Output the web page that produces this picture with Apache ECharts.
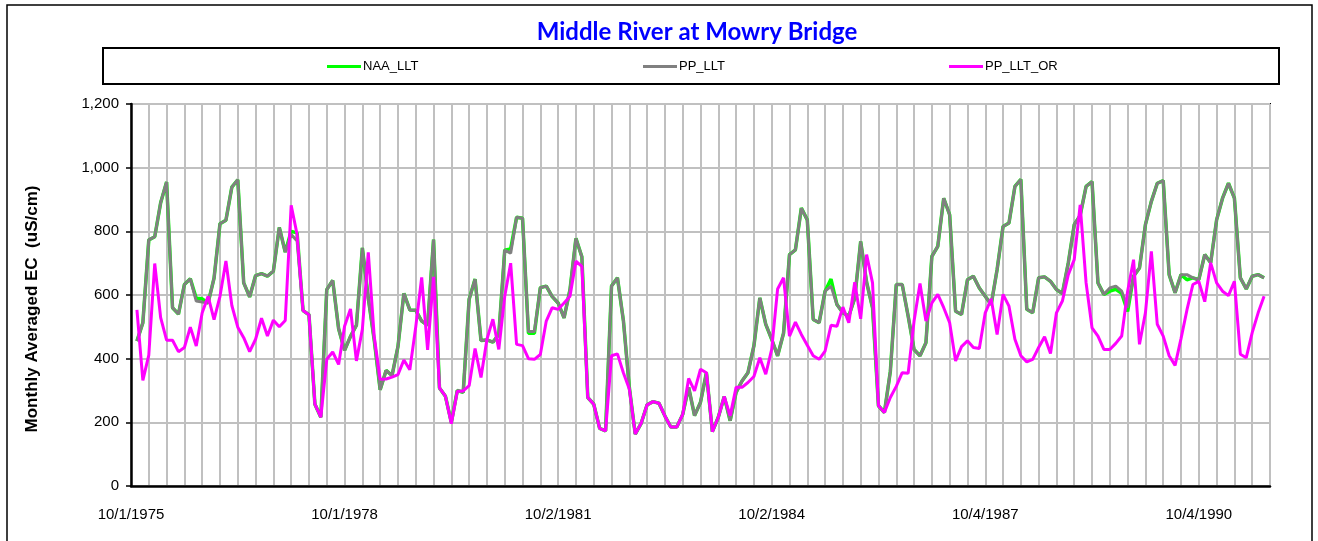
<!DOCTYPE html>
<html>
<head>
<meta charset="utf-8">
<title>Middle River at Mowry Bridge</title>
<script src="https://cdn.jsdelivr.net/npm/echarts@6/dist/echarts.min.js"></script>
<style>
html,body{margin:0;padding:0;background:#fff;}
#chart{width:1318px;height:541px;}
</style>
</head>
<body>
<div id="chart"></div>
<script>
// monthly averaged EC, one value per month from Oct 1975
var tickLabels=['10/1/1975','10/1/1978','10/2/1981','10/2/1984','10/4/1987','10/4/1990'];
var seriesNames=['NAA_LLT','PP_LLT','PP_LLT_OR'];

var naaLLT=[
455,513,773,783,890,955,560,540,633,651,590,588,
575,653,824,835,939,962,638,594,661,667,659,675,
812,735,800,795,551,538,257,216,617,646,494,426,
470,505,748,590,459,302,363,347,438,605,553,552,
518,505,774,308,282,200,300,294,587,650,457,459,
452,476,741,745,844,841,480,480,623,628,595,575,
528,617,778,720,278,257,181,173,628,654,520,310,
163,197,255,265,260,220,185,185,225,310,221,263,
356,171,216,281,205,294,330,356,440,591,508,461,
409,480,727,742,873,836,523,513,612,650,570,544,
534,590,768,640,560,252,231,360,633,633,534,429,
409,450,721,753,904,852,549,539,648,659,622,596,
570,680,815,826,941,963,555,544,654,657,643,617,
605,701,821,850,941,956,638,602,612,618,605,548,
659,685,821,894,951,959,664,607,664,648,654,648,
727,701,836,904,951,904,654,619,659,664,654
];
var ppLLT=[
455,513,773,783,890,955,560,540,633,651,581,578,
575,653,824,835,939,962,638,594,661,667,659,675,
812,735,790,770,551,538,257,216,617,646,494,426,
470,505,748,590,459,302,363,347,438,605,553,552,
518,505,774,308,282,200,300,294,587,650,457,459,
452,476,741,731,844,841,485,485,623,628,595,575,
528,617,778,720,278,257,181,173,628,654,520,310,
163,197,255,265,260,220,185,185,225,310,221,263,
356,171,216,281,205,294,330,356,440,591,508,461,
409,480,727,742,873,836,523,513,612,628,570,544,
534,590,768,640,560,252,231,360,633,633,534,429,
409,450,721,753,904,852,549,539,648,659,622,596,
570,680,815,826,941,963,555,544,654,657,643,617,
605,701,821,850,941,956,638,602,622,628,612,560,
659,685,821,894,951,959,664,607,664,664,654,648,
727,701,836,904,951,904,654,619,659,664,654
];
var ppLLTOR=[
553,332,411,699,529,458,458,422,435,499,440,544,
596,523,596,707,567,499,466,422,461,527,471,521,
500,520,882,790,551,538,257,216,398,421,382,502,
556,393,492,734,470,335,336,342,350,396,365,500,
655,428,657,308,282,196,297,299,315,432,341,461,
524,429,596,700,445,441,400,398,413,518,560,555,
575,596,706,690,278,257,181,173,409,415,356,305,
163,197,255,265,260,220,185,185,225,338,299,367,
356,171,216,281,221,310,310,325,344,403,351,429,
619,654,471,515,476,442,409,398,424,505,502,562,
513,640,525,727,638,252,231,278,313,356,354,518,
636,518,575,602,560,513,393,438,456,435,432,544,
588,476,602,565,461,409,390,398,435,469,416,544,
581,664,711,883,638,497,471,429,429,448,471,612,
711,445,544,737,508,471,409,379,463,553,633,643,
579,701,638,612,598,643,414,403,482,544,596
];

// months elapsed since 10/1/1975 at the end of each month
var monthEnd=[];
for(var m=0;m<ppLLT.length;m++){monthEnd.push(m+1);}

function pairs(values){
    return values.map(function(v,i){return [monthEnd[i],v];});
}

var axisFont='"Liberation Sans", Arial, sans-serif';
var gridColor='#c0c0c0';

var chart=echarts.init(document.getElementById('chart'),null,{renderer:'canvas'});

var option={
    animation:false,
    backgroundColor:'#fff',
    title:{
        text:'Middle River at Mowry Bridge',
        left:697,
        top:20,
        textAlign:'center',
        padding:0,
        textStyle:{fontFamily:'Lato, sans-serif',fontWeight:'bold',fontSize:24,color:'#0000ff'}
    },
    legend:[
        {data:[seriesNames[0]],left:327,top:60},
        {data:[seriesNames[1]],left:643,top:60},
        {data:[seriesNames[2]],left:949,top:60}
    ].map(function(l){
        l.padding=0;
        l.icon='rect';
        l.itemWidth=34;
        l.itemHeight=3;
        l.selectedMode=false;
        l.textStyle={fontFamily:axisFont,fontSize:13,color:'#000',padding:[0,0,0,-3]};
        return l;
    }),
    grid:{
        left:131,right:48,top:104,bottom:55,
        show:true,borderColor:'#000',borderWidth:2,containLabel:false
    },
    xAxis:{
        type:'value',
        min:0,max:192,interval:3,
        axisLine:{show:true,lineStyle:{color:'#000',width:2.5}},
        axisTick:{show:false},
        splitLine:{show:true,lineStyle:{color:gridColor,width:2}},
        axisLabel:{
            color:'#000',fontFamily:axisFont,fontSize:15,margin:21,
            formatter:function(v){return v%36===0?tickLabels[v/36]:'';}
        }
    },
    yAxis:{
        type:'value',
        min:0,max:1200,interval:200,
        axisLine:{show:true,lineStyle:{color:'#000',width:2.5}},
        axisTick:{show:true,length:5,lineStyle:{color:'#000',width:1.5}},
        splitLine:{show:true,lineStyle:{color:gridColor,width:2}},
        axisLabel:{
            color:'#000',fontFamily:axisFont,fontSize:15,margin:12,
            formatter:function(v){return v.toLocaleString('en-US');}
        }
    },
    graphic:[
        {type:'rect',shape:{x:7,y:5,width:1305,height:560},silent:true,
            style:{fill:null,stroke:'#000',lineWidth:1.5}},
        {type:'rect',shape:{x:103,y:48,width:1176,height:36},silent:true,
            style:{fill:null,stroke:'#000',lineWidth:2}},
        {type:'text',x:32,y:309,rotation:Math.PI/2,silent:true,
            style:{text:'Monthly Averaged EC  (uS/cm)',fontFamily:axisFont,fontWeight:'bold',
                fontSize:17,fill:'#000',textAlign:'center',textVerticalAlign:'middle'}}
    ],
    series:[
        {name:seriesNames[0],type:'line',data:pairs(naaLLT),symbol:'none',z:2,
            itemStyle:{color:'#00ff00'},lineStyle:{color:'#00ff00',width:3.5}},
        {name:seriesNames[1],type:'line',data:pairs(ppLLT),symbol:'none',z:3,
            itemStyle:{color:'#808080'},lineStyle:{color:'#808080',width:3}},
        {name:seriesNames[2],type:'line',data:pairs(ppLLTOR),symbol:'none',z:4,
            itemStyle:{color:'#ff00ff'},lineStyle:{color:'#ff00ff',width:3}}
    ]
};
chart.setOption(option);
</script>
</body>
</html>
